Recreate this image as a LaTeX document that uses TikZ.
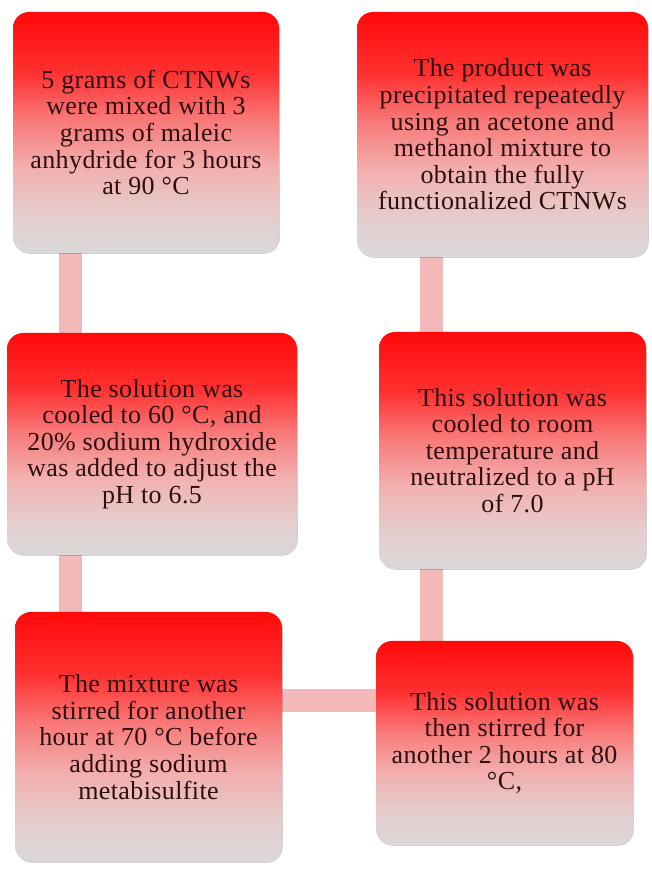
\documentclass[tikz,border=0pt]{standalone}
\usepackage{fontspec}
\setmainfont[LetterSpace=1.5]{Liberation Serif}
\usetikzlibrary{shadows}
\definecolor{shgrey}{RGB}{218,216,216}
\definecolor{shpale}{RGB}{228,206,206}
\definecolor{shpink}{RGB}{242,176,176}
\definecolor{shmid}{RGB}{248,122,122}
\definecolor{shred}{RGB}{255,48,48}
\definecolor{shtop}{RGB}{255,10,10}
\definecolor{txt}{RGB}{45,15,15}
\definecolor{connc}{RGB}{243,184,184}
\pgfdeclareverticalshading{boxshade}{100bp}{color(0bp)=(shgrey); color(25bp)=(shgrey); color(32.5bp)=(shpale); color(42.5bp)=(shpink); color(52.5bp)=(shmid); color(62.5bp)=(shred); color(75bp)=(shtop); color(100bp)=(shtop)}
\pgfdeclarelayer{background}
\pgfsetlayers{background,main}
\begin{document}
\begin{tikzpicture}[x=1pt,y=1pt,
  box/.style={rectangle, rounded corners=16pt, shading=boxshade, inner sep=0pt,
    align=center, text=txt, font=\fontsize{26}{26.6}\selectfont,
    drop shadow={shadow xshift=0.8pt, shadow yshift=-0.8pt, opacity=0.18, fill=black}},
  conn/.style={draw=connc, line width=23pt}]
\useasboundingbox (0,0) rectangle (651,872);
\node[box, minimum width=266pt, minimum height=241pt] (b1) at (146,739.5)
  {5 grams of CTNWs\\ were mixed with 3\\ grams of maleic\\ anhydride for 3 hours\\ at 90 °C};
\node[box, minimum width=291pt, minimum height=245pt] (b2) at (502.5,737.5)
  {The product was\\ precipitated repeatedly\\ using an acetone and\\ methanol mixture to\\ obtain the fully\\ functionalized CTNWs};
\node[box, minimum width=290pt, minimum height=222pt] (b3) at (152,428)
  {The solution was\\ cooled to 60 °C, and\\ 20\% sodium hydroxide\\ was added to adjust the\\ pH to 6.5};
\node[box, minimum width=267pt, minimum height=237pt] (b4) at (512.5,421.5)
  {This solution was\\ cooled to room\\ temperature and\\ neutralized to a pH\\ of 7.0};
\node[box, minimum width=267pt, minimum height=250pt] (b5) at (148.5,135)
  {The mixture was\\ stirred for another\\ hour at 70 °C before\\ adding sodium\\ metabisulfite};
\node[box, minimum width=257pt, minimum height=204pt] (b6) at (504.5,129)
  {This solution was\\ then stirred for\\ another 2 hours at 80\\ °C,};
\coordinate (cL) at (70.5,0);
\coordinate (cR) at (431,0);
\coordinate (cH) at (0,171.5);
\begin{pgfonlayer}{background}
\fill[white] (0,0) rectangle (651,872);
\draw[conn] (b1.south -| cL) -- (b3.north -| cL);
\draw[conn] (b3.south -| cL) -- (b5.north -| cL);
\draw[conn] (b5.east |- cH) -- (b6.west |- cH);
\draw[conn] (b6.north -| cR) -- (b4.south -| cR);
\draw[conn] (b4.north -| cR) -- (b2.south -| cR);
\end{pgfonlayer}
\end{tikzpicture}
\end{document}
